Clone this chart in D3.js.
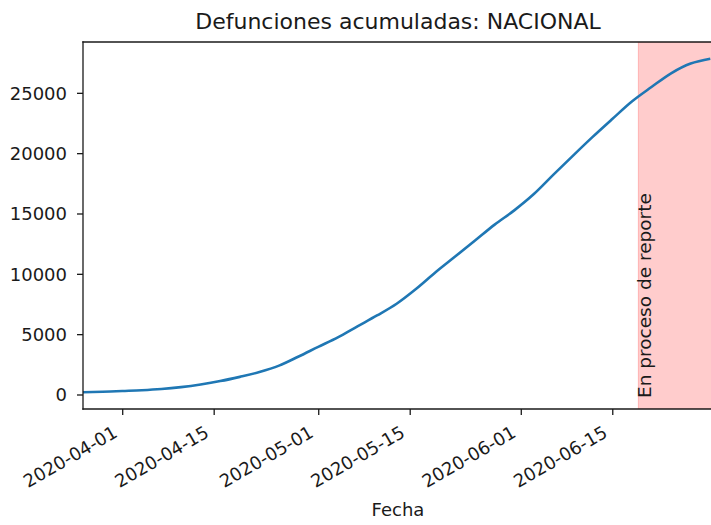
<!DOCTYPE html>
<meta charset="utf-8">
<style>
    body { margin: 0; background: #fff; }
    text { font-family: "DejaVu Sans", sans-serif; fill: #1a1a1a; }
    .axis path, .axis line { stroke: #1a1a1a; stroke-width: 1.3px; }
</style>
<body>
<svg width="711" height="525"></svg>
</body>
<script src="https://d3js.org/d3.v7.min.js"></script>
<script>
    // values, every 3 days
    const fechas = ["2020-03-26", "2020-03-29", "2020-04-01", "2020-04-04", "2020-04-07", "2020-04-10",
        "2020-04-13", "2020-04-16", "2020-04-19", "2020-04-22", "2020-04-25", "2020-04-28",
        "2020-05-01", "2020-05-04", "2020-05-07", "2020-05-10", "2020-05-13", "2020-05-16",
        "2020-05-19", "2020-05-22", "2020-05-25", "2020-05-28", "2020-05-31", "2020-06-03",
        "2020-06-06", "2020-06-09", "2020-06-12", "2020-06-15", "2020-06-18", "2020-06-21",
        "2020-06-24", "2020-06-27", "2020-06-30"];
    const defunciones = [180, 230, 290, 350, 450, 610,
        830, 1110, 1460, 1860, 2390, 3150,
        3950, 4740, 5650, 6550, 7520, 8760,
        10150, 11450, 12760, 14080, 15260, 16610,
        18220, 19800, 21350, 22830, 24280, 25480,
        26620, 27430, 27830];
    const xTicks = ["2020-04-01", "2020-04-15", "2020-05-01", "2020-05-15", "2020-06-01", "2020-06-15"];
    const yTicks = [0, 5000, 10000, 15000, 20000, 25000];
    const inicioReporte = "2020-06-19";
    const xLimite = ["2020-03-26T00:00", "2020-06-30T10:00"];

    const parse = d3.timeParse("%Y-%m-%d");
    const parseH = d3.timeParse("%Y-%m-%dT%H:%M");
    const data = fechas.map((f, i) => ({fecha: parse(f), valor: defunciones[i]}));

    const svg = d3.select("svg");
    const m = {left: 83, right: 713, top: 42, bottom: 409};

    const x = d3.scaleTime()
        .domain(xLimite.map(parseH))
        .range([m.left, m.right]);

    // matplotlib style 5% margin on y
    const yMin = d3.min(defunciones), yMax = d3.max(defunciones);
    const pad = (yMax - yMin) * 0.05;
    const y = d3.scaleLinear()
        .domain([yMin - pad, yMax + pad])
        .range([m.bottom, m.top]);

    svg.append("defs").append("clipPath").attr("id", "clip")
        .append("rect")
        .attr("x", m.left).attr("y", m.top)
        .attr("width", m.right - m.left).attr("height", m.bottom - m.top);

    const plot = svg.append("g").attr("clip-path", "url(#clip)");

    // zona en proceso de reporte
    plot.append("rect")
        .attr("x", x(parse(inicioReporte)))
        .attr("y", m.top)
        .attr("width", m.right - x(parse(inicioReporte)))
        .attr("height", m.bottom - m.top)
        .attr("fill", "#ffcccc")
        .attr("stroke", "#ffb3b3")
        .attr("stroke-width", 1);

    const line = d3.line()
        .x(d => x(d.fecha))
        .y(d => y(d.valor))
        .curve(d3.curveMonotoneX);

    plot.append("path")
        .datum(data)
        .attr("fill", "none")
        .attr("stroke", "#1f77b4")
        .attr("stroke-width", 2.6)
        .attr("d", line);

    svg.append("text")
        .attr("transform", "translate(" + (x(parse(inicioReporte)) + 13) + "," + 398 + ") rotate(-90)")
        .style("font-size", "18.5px")
        .text("En proceso de reporte");

    // ejes
    const xAxis = svg.append("g")
        .attr("class", "axis")
        .attr("transform", "translate(0," + m.bottom + ")")
        .call(d3.axisBottom(x).tickValues(xTicks.map(parse)).tickSize(6).tickSizeOuter(0)
            .tickFormat(d3.timeFormat("%Y-%m-%d")));
    xAxis.select(".domain").remove();
    xAxis.selectAll("text")
        .style("font-size", "18px")
        .attr("text-anchor", "end")
        .attr("y", null).attr("dy", null)
        .attr("transform", "translate(-4,27) rotate(-30)");

    const yAxis = svg.append("g")
        .attr("class", "axis")
        .attr("transform", "translate(" + m.left + ",0)")
        .call(d3.axisLeft(y).tickValues(yTicks).tickSize(6).tickFormat(d3.format("d")));
    yAxis.select(".domain").remove();
    yAxis.selectAll("text")
        .style("font-size", "18px")
        .attr("x", -16)
        .attr("dy", "0.36em");

    // spines
    const spines = svg.append("g").attr("class", "axis");
    spines.append("line").attr("x1", m.left).attr("x2", m.left).attr("y1", m.top).attr("y2", m.bottom);
    spines.append("line").attr("x1", m.left).attr("x2", m.right).attr("y1", m.bottom).attr("y2", m.bottom);
    spines.append("line").attr("x1", m.left).attr("x2", m.right).attr("y1", m.top).attr("y2", m.top);
    spines.append("line").attr("x1", m.right).attr("x2", m.right).attr("y1", m.top).attr("y2", m.bottom);
    spines.selectAll("line").attr("stroke-linecap", "square");

    svg.append("text")
        .attr("x", (m.left + m.right) / 2)
        .attr("y", 29)
        .attr("text-anchor", "middle")
        .style("font-size", "22px")
        .text("Defunciones acumuladas: NACIONAL");

    svg.append("text")
        .attr("x", (m.left + m.right) / 2)
        .attr("y", 516)
        .attr("text-anchor", "middle")
        .style("font-size", "18px")
        .text("Fecha");
</script>
